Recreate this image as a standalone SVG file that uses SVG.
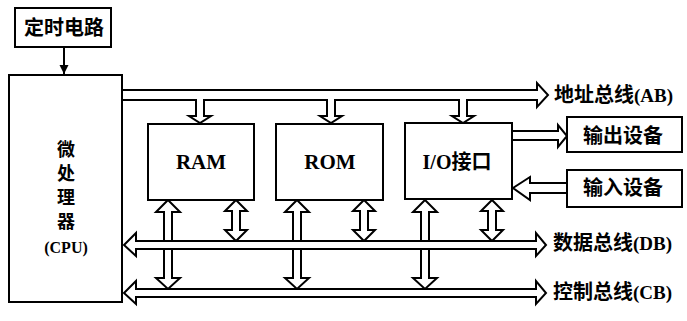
<svg xmlns="http://www.w3.org/2000/svg" width="687" height="321" viewBox="0 0 687 321">
<style>
.box{fill:#fff;stroke:#000;stroke-width:2}
.ar{fill:#fff;stroke:#000;stroke-width:2;stroke-linejoin:miter}
.ln{fill:none;stroke:#000;stroke-width:2}
.cj{font-family:"Noto Sans CJK SC","Noto Sans CJK JP",sans-serif;font-weight:bold;font-size:20px;fill:#000}
.cv{font-family:"Noto Sans CJK SC","Noto Sans CJK JP",sans-serif;font-weight:bold;font-size:18px;fill:#000}
.lt{font-family:"Liberation Serif","Times New Roman",serif;font-weight:bold;fill:#000}
</style>
<defs>
<marker id="ah" viewBox="0 0 10 10" refX="10" refY="5" markerWidth="9" markerHeight="10" orient="auto" markerUnits="userSpaceOnUse"><path d="M0,0 L10,5 L0,10 Z" fill="#000"/></marker>
</defs>
<g id="connectors">
<line class="ln" x1="64" y1="47" x2="64" y2="74" marker-end="url(#ah)"/>
<path class="ar" d="M122,90 H537 V83 L548,95 L537,107 V100 H467 V116 H474 L463,123 L452,116 H459 V100 H335 V116 H342 L331,123 L320,116 H327 V100 H204 V116 H211 L200,123 L189,116 H196 V100 H122 Z"/>
<path class="ar" d="M512,131 H558 V125 L567,136 L558,147 V140 H512"/>
<path class="ar" d="M567,183 H530 V177 L513,188 L530,200 V193 H567"/>
<path class="ar" d="M168,200 L180,212 H172 V278 H180 L168,289 L156,278 H164 V212 H156 Z"/>
<path class="ar" d="M297,200 L309,212 H301 V278 H309 L297,289 L285,278 H293 V212 H285 Z"/>
<path class="ar" d="M425,200 L437,212 H429 V278 H437 L425,289 L413,278 H421 V212 H413 Z"/>
<path class="ar" d="M236,200 L247,211 H240 V230 H247 L236,241 L225,230 H232 V211 H225 Z"/>
<path class="ar" d="M364,200 L375,211 H368 V230 H375 L364,241 L353,230 H360 V211 H353 Z"/>
<path class="ar" d="M492,200 L503,211 H496 V230 H503 L492,241 L481,230 H488 V211 H481 Z"/>
<path class="ar" d="M136,241 H536 V233 L546,245 L536,256 V249 H136 V256 L124,245 L136,233 Z"/>
<path class="ar" d="M136,289 H536 V281 L546,293 L536,304 V297 H136 V304 L124,293 L136,281 Z"/>
</g>
<g id="timer">
<rect class="box" x="15" y="8" width="96" height="39"/>
<text class="cj" x="64" y="35" text-anchor="middle">定时电路</text>
</g>
<g id="cpu">
<rect class="box" x="9" y="75" width="113" height="227" style="fill:none"/>
<text class="cv" x="66" y="156" text-anchor="middle">微</text>
<text class="cv" x="66" y="180" text-anchor="middle">处</text>
<text class="cv" x="66" y="204" text-anchor="middle">理</text>
<text class="cv" x="66" y="228" text-anchor="middle">器</text>
<text class="lt" x="66" y="253" font-size="16" text-anchor="middle">(CPU)</text>
</g>
<g id="ram">
<rect class="box" x="148" y="124" width="106" height="76"/>
<text class="lt" x="201" y="169" font-size="21" text-anchor="middle">RAM</text>
</g>
<g id="rom">
<rect class="box" x="276" y="124" width="107" height="76"/>
<text class="lt" x="330" y="169" font-size="21" text-anchor="middle">ROM</text>
</g>
<g id="io">
<rect class="box" x="405" y="123" width="107" height="76"/>
<text x="457" y="169" text-anchor="middle"><tspan class="lt" font-size="20">I/O</tspan><tspan class="cj">接口</tspan></text>
</g>
<g id="output">
<rect class="box" x="567" y="117" width="115" height="35"/>
<text class="cj" x="623" y="143" text-anchor="middle">输出设备</text>
</g>
<g id="input">
<rect class="box" x="567" y="170" width="115" height="37"/>
<text class="cj" x="623" y="195" text-anchor="middle">输入设备</text>
</g>
<g id="labels">
<text x="554" y="102"><tspan class="cj">地址总线</tspan><tspan class="lt" font-size="19">(AB)</tspan></text>
<text x="553" y="250"><tspan class="cj">数据总线</tspan><tspan class="lt" font-size="19">(DB)</tspan></text>
<text x="553" y="299"><tspan class="cj">控制总线</tspan><tspan class="lt" font-size="19">(CB)</tspan></text>
</g>
</svg>
